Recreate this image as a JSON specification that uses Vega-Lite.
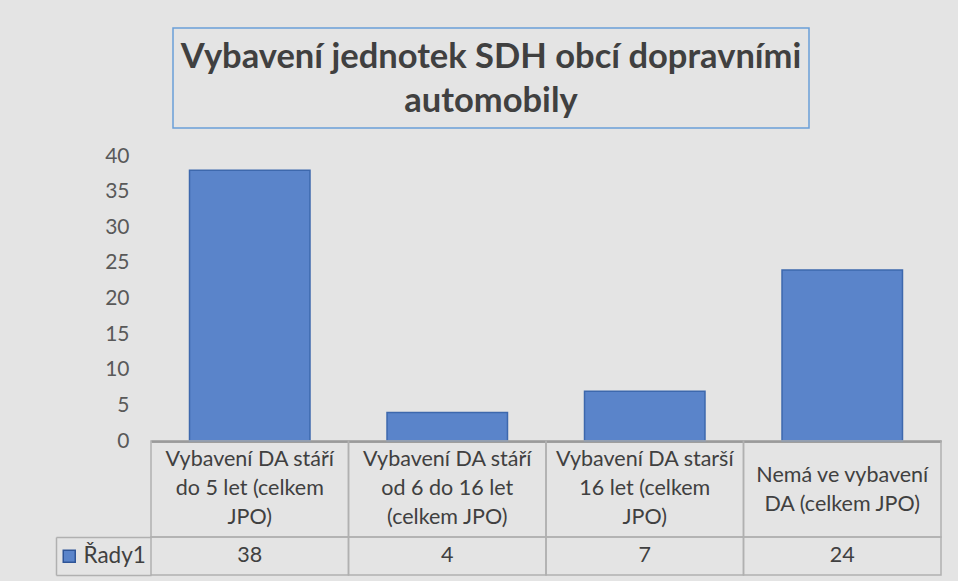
{
  "$schema": "https://vega.github.io/schema/vega-lite/v6.json",
  "background": "#e4e4e4",
  "padding": {"left": 55, "top": 27, "right": 18, "bottom": 7},
  "config": {"view": {"stroke": null}, "font": "Lato"},
  "data": {"values": [
    {"category": "Vybavení DA stáří do 5 let (celkem JPO)", "lines": ["Vybavení DA stáří", "do 5 let (celkem", "JPO)"], "value": 38, "series": "Řady1"},
    {"category": "Vybavení DA stáří od 6 do 16 let (celkem JPO)", "lines": ["Vybavení DA stáří", "od 6 do 16 let", "(celkem JPO)"], "value": 4, "series": "Řady1"},
    {"category": "Vybavení DA starší 16 let (celkem JPO)", "lines": ["Vybavení DA starší", "16 let (celkem", "JPO)"], "value": 7, "series": "Řady1"},
    {"category": "Nemá ve vybavení DA (celkem JPO)", "lines": ["Nemá ve vybavení", "DA (celkem JPO)"], "value": 24, "series": "Řady1"}
  ]},
  "bounds": "flush",
  "spacing": 0,
  "center": true,
  "resolve": {"scale": {"x": "independent", "y": "independent", "color": "independent"}, "legend": {"color": "independent"}},
  "vconcat": [
    {
      "width": 636,
      "height": 100,
      "view": {"stroke": "#6a9fd8", "strokeWidth": 1.5},
      "data": {"values": [{"lines": ["Vybavení jednotek SDH obcí dopravními", "automobily"]}]},
      "mark": {"type": "text", "font": "Lato", "fontWeight": "bold", "fontSize": 34.5, "color": "#404040", "lineHeight": 44, "baseline": "middle", "align": "center", "dy": -20},
      "encoding": {"text": {"field": "lines"}}
    },
    {"width": 870, "height": 28, "data": {"values": [{}]}, "mark": "text", "encoding": {"text": {"value": ""}}},
    {
      "width": 870,
      "height": 285,
      "mark": {"type": "bar", "stroke": "#3d68ad", "strokeWidth": 1.5},
      "encoding": {
        "x": {"field": "category", "type": "nominal", "sort": null, "scale": {"range": [95, 885], "paddingInner": 0.39, "paddingOuter": 0.195}, "axis": {"labels": false, "ticks": false, "title": null, "domainColor": "#595959", "domainWidth": 2}},
        "y": {"field": "value", "type": "quantitative", "scale": {"domain": [0, 40], "nice": false}, "axis": {"values": [0, 5, 10, 15, 20, 25, 30, 35, 40], "offset": -95, "title": null, "grid": false, "domain": false, "ticks": false, "labelPadding": 22, "labelFontSize": 21, "labelColor": "#595959", "labelFont": "Lato"}},
        "color": {"field": "series", "type": "nominal", "scale": {"range": ["#5a84ca"]}, "legend": {"orient": "none", "legendX": 2, "legendY": 389, "title": null, "symbolType": "square", "symbolSize": 144, "symbolStrokeColor": "#2f5597", "symbolStrokeWidth": 1.5, "symbolOpacity": 1, "labelFont": "Lato", "labelFontSize": 22.5, "labelColor": "#404040", "labelOffset": 3, "padding": 0}}
      }
    },
    {
      "width": 870,
      "height": 96,
      "encoding": {"x": {"field": "category", "type": "nominal", "sort": null, "scale": {"range": [95, 885], "paddingInner": 0, "paddingOuter": 0}, "axis": null}},
      "layer": [
        {"mark": {"type": "rect", "fillOpacity": 0, "stroke": "#b0b0b0", "strokeWidth": 1.5}},
        {"transform": [{"filter": "length(datum.lines) == 3"}], "mark": {"type": "text", "font": "Lato", "fontSize": 21.5, "color": "#404040", "lineHeight": 29, "baseline": "middle", "align": "center", "dy": -29}, "encoding": {"text": {"field": "lines"}}},
        {"transform": [{"filter": "length(datum.lines) == 2"}], "mark": {"type": "text", "font": "Lato", "fontSize": 21.5, "color": "#404040", "lineHeight": 29, "baseline": "middle", "align": "center", "dy": -13}, "encoding": {"text": {"field": "lines"}}}
      ]
    },
    {
      "width": 870,
      "height": 38,
      "encoding": {
        "x": {"field": "category", "type": "nominal", "sort": null, "scale": {"range": [95, 885], "paddingInner": 0, "paddingOuter": 0}, "axis": null},
        "y": {"field": "series", "type": "nominal", "scale": {"paddingInner": 0, "paddingOuter": 0}, "axis": {"labels": false, "title": null, "grid": false, "domain": true, "domainColor": "#b0b0b0", "domainWidth": 1.5, "ticks": true, "tickBand": "extent", "tickSize": -95, "tickColor": "#b0b0b0", "tickWidth": 1.5}}
      },
      "layer": [
        {"mark": {"type": "rect", "fillOpacity": 0, "stroke": "#b0b0b0", "strokeWidth": 1.5}},
        {"mark": {"type": "text", "font": "Lato", "fontSize": 21.5, "color": "#404040", "baseline": "middle", "align": "center"}, "encoding": {"text": {"field": "value", "type": "quantitative"}}}
      ]
    }
  ]
}
